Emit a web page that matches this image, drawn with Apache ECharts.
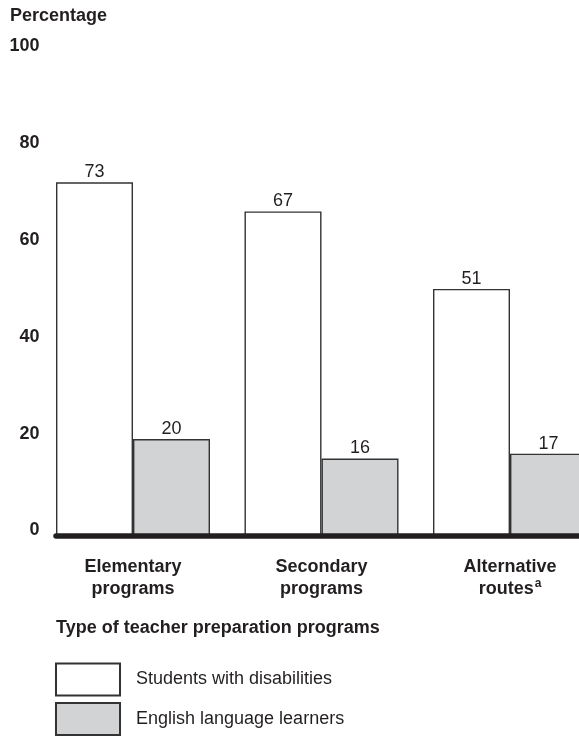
<!DOCTYPE html>
<html>
<head>
<meta charset="utf-8">
<script src="https://cdn.jsdelivr.net/npm/echarts@6/dist/echarts.min.js"></script>
<style>
html,body{margin:0;padding:0;background:#fff;}
#chart{width:579px;height:737px;}
</style>
</head>
<body>
<div id="chart"></div>
<script>
var categories = ['Elementary\nprograms', 'Secondary\nprograms', 'Alternative\nroutes'];
var categorySup = ['', '', 'a'];
var seriesNames = ['Students with disabilities', 'English language learners'];
var disabilities = [73, 67, 51];
var ell = [20, 16, 17];
var spacer = [0, 0, 0];
var yTicks = [0, 20, 40, 60, 80, 100];
var yAxisTitle = 'Percentage';
var xAxisTitle = 'Type of teacher preparation programs';

var FONT = "'Liberation Sans', Arial, Helvetica, sans-serif";
var INK = '#231f20';

var chart = echarts.init(document.getElementById('chart'), null, {renderer: 'canvas'});
chart.setOption({
  backgroundColor: '#ffffff',
  animation: false,
  textStyle: {fontFamily: FONT, color: INK},
  title: [
    {text: yAxisTitle, left: 10, top: 7, padding: 0,
     textStyle: {fontFamily: FONT, fontSize: 18, fontWeight: 'bold', color: INK}},
    {text: xAxisTitle, left: 56, top: 619, padding: 0,
     textStyle: {fontFamily: FONT, fontSize: 18, fontWeight: 'bold', color: INK}}
  ],
  legend: {
    data: seriesNames,
    orient: 'vertical',
    left: 55, top: 662.5, height: 100, width: 400,
    padding: 0,
    itemWidth: 64, itemHeight: 32, itemGap: 5.5,
    icon: 'rect',
    selectedMode: false,
    textStyle: {fontFamily: FONT, fontSize: 18, color: INK, padding: [0, 0, 0, 11]}
  },
  grid: {left: 56, top: 51.5, height: 484.5, width: 565.5, containLabel: false, outerBoundsMode: 'none'},
  xAxis: {
    type: 'category',
    data: categories,
    z: 5,
    axisLine: {show: true, lineStyle: {color: INK, width: 5.5}},
    axisTick: {show: false},
    splitLine: {show: false},
    axisLabel: {
      interval: 0,
      margin: 20,
      padding: [0, 34.5, 0, 0],
      align: 'center',
      formatter: function (v, i) {
        var lines = v.split('\n');
        var out = '{b|' + lines[0] + '}\n{b|' + lines[1] + '}';
        if (categorySup[i]) out += '{sup|' + categorySup[i] + '}';
        return out;
      },
      rich: {
        b: {fontFamily: FONT, fontSize: 18, fontWeight: 'bold', color: INK, lineHeight: 22},
        sup: {fontFamily: FONT, fontSize: 12, fontWeight: 'bold', color: INK, padding: [0, 0, 10, 1], lineHeight: 22}
      }
    }
  },
  yAxis: {
    type: 'value',
    min: 0, max: 100, interval: 20,
    axisLine: {show: false},
    axisTick: {show: false},
    splitLine: {show: false},
    axisLabel: {
      margin: 16.5,
      fontFamily: FONT, fontSize: 18, fontWeight: 'bold', color: INK,
      verticalAlign: 'bottom',
      lineHeight: 11,
      formatter: function (v) { return yTicks.indexOf(v) >= 0 ? String(v) : ''; }
    }
  },
  series: [
    {
      name: seriesNames[0], type: 'bar', data: disabilities,
      barWidth: 77, barGap: '0%',
      itemStyle: {color: '#ffffff', borderColor: '#333333', borderWidth: 1.4},
      label: {show: true, position: 'top', distance: 1, fontFamily: FONT, fontSize: 18, color: INK}
    },
    {
      name: seriesNames[1], type: 'bar', data: ell,
      barWidth: 77, barGap: '0%',
      itemStyle: {color: '#d1d3d4', borderColor: '#333333', borderWidth: 1.4},
      label: {show: true, position: 'top', distance: 1, fontFamily: FONT, fontSize: 18, color: INK}
    },
    {
      name: 'spacer', type: 'bar', data: spacer,
      barWidth: 34.5, barGap: '0%', silent: true,
      itemStyle: {color: 'rgba(0,0,0,0)', borderWidth: 0},
      label: {show: false}
    }
  ]
});
</script>
</body>
</html>
